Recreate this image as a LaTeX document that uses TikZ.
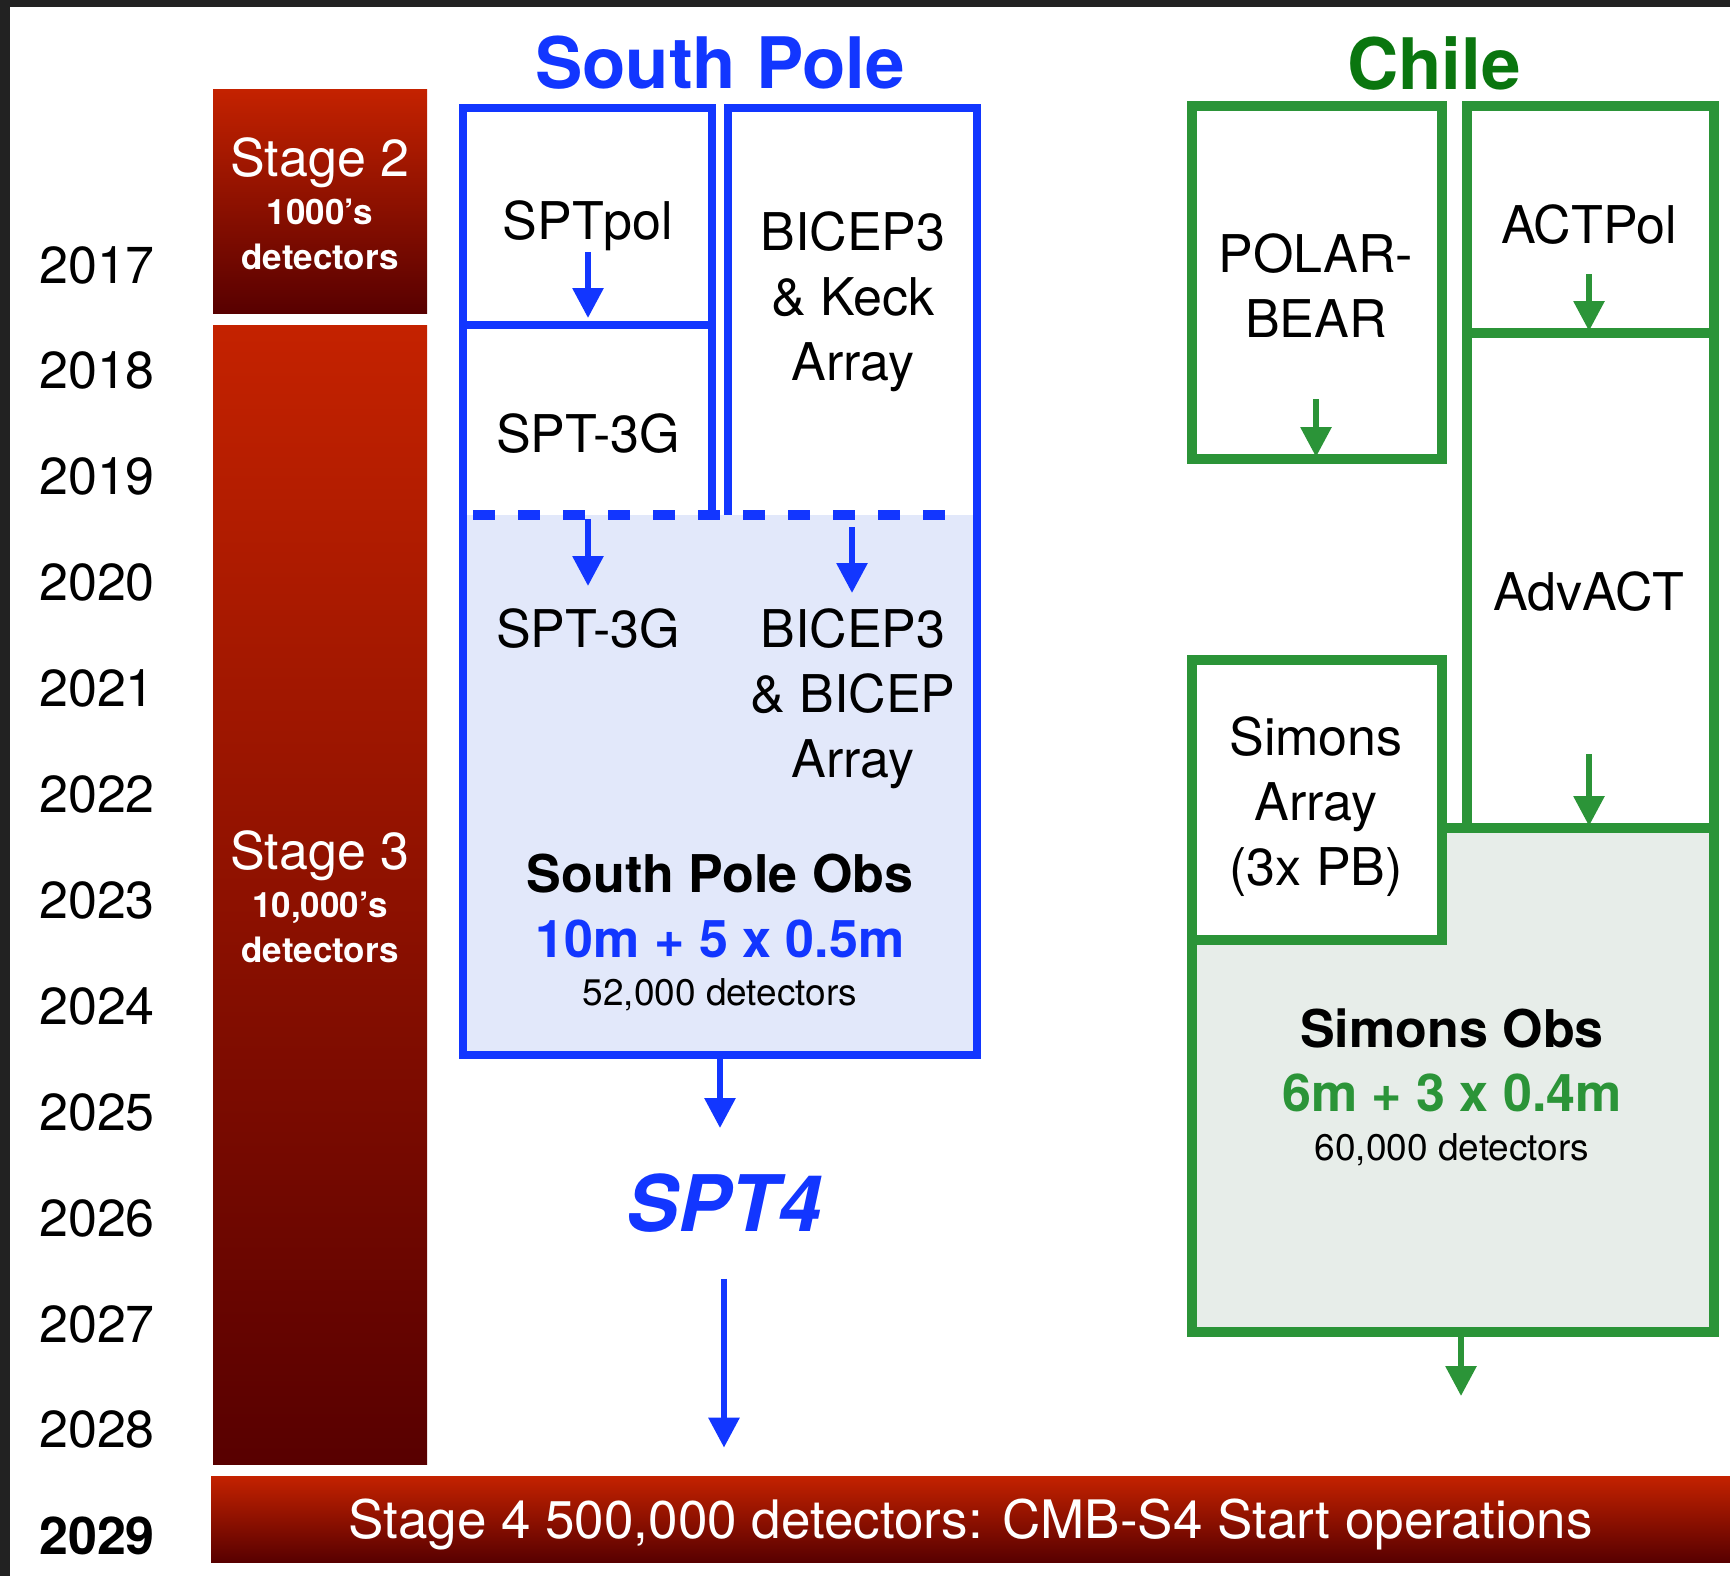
\documentclass[tikz,border=0pt]{standalone}
\usepackage{fontspec}
\setmainfont{TeX Gyre Heros}
\usetikzlibrary{arrows.meta}
\definecolor{spBlue}{HTML}{1236FF}
\definecolor{spFill}{HTML}{E2E8FA}
\definecolor{chGreen}{HTML}{2B9438}
\definecolor{chTitle}{HTML}{0A760F}
\definecolor{chFill}{HTML}{E7EDE9}
\definecolor{stageTop}{HTML}{C42200}
\definecolor{stageBot}{HTML}{580000}
\definecolor{frameDark}{HTML}{222222}

\begin{document}
\begin{tikzpicture}[x=0.5pt, y=-0.5pt,
        yearlbl/.style={font=\fontsize{26}{30}\selectfont, inner sep=0pt},
        lbl/.style={font=\fontsize{26}{32.5}\selectfont, align=center, inner sep=0pt},
        boldlbl/.style={lbl, font=\bfseries\fontsize{26}{32.5}\selectfont},
        detlbl/.style={font=\fontsize{18.5}{22}\selectfont, inner sep=0pt},
        region/.style={font=\bfseries\fontsize{35.5}{40}\selectfont, inner sep=0pt},
        stagebox/.style={top color=stageTop, bottom color=stageBot, draw=none, inner sep=0pt},
        stagettl/.style={text=white, font=\fontsize{26}{30}\selectfont, inner sep=0pt},
        stagesub/.style={text=white, font=\bfseries\fontsize{17.5}{22.5}\selectfont, align=center, inner sep=0pt},
        spline/.style={draw=spBlue, line width=4pt},
        chline/.style={draw=chGreen, line width=5pt},
        barr/.style={-{Triangle[length=15pt,width=15pt]}, line width=3pt, draw=spBlue},
        garr/.style={-{Triangle[length=15pt,width=15pt]}, line width=3pt, draw=chGreen}
    ]
        \useasboundingbox (0,0) rectangle (1730,1576);
        \fill[frameDark] (0,0) rectangle (1730,1576);
        \fill[white] (10,7) rectangle (1730,1576);

        % --- YEARS ---
        \foreach \yr [count=\i from 0] in {2017,...,2028}
            \node[yearlbl] (yr\yr) at (97, 265+\i*105.9) {\yr};
        \node[yearlbl, font=\bfseries\fontsize{26}{30}\selectfont] (yr2029) at (97,1536) {2029};

        % --- STAGES ---
        \node[stagebox, minimum width=107pt, minimum height=112pt] (stage2) at (320,201) {};
        \node[stagettl] (stage2ttl) at (320,163) {Stage 2};
        \node[stagesub] (stage2sub) at (320,234.5) {1000's\\detectors};

        \node[stagebox, minimum width=107pt, minimum height=569.5pt] (stage3) at (320,894.5) {};
        \node[stagettl] (stage3ttl) at (320,856) {Stage 3};
        \node[stagesub] (stage3sub) at (320,927.5) {10,000's\\detectors};

        \node[stagebox, minimum width=759.5pt, minimum height=43pt, text=white,
              font=\fontsize{26.5}{30}\selectfont, text depth=0pt] (s4) at (970.5,1519)
              {Stage 4 500,000 detectors: CMB-S4 Start operations};

        % --- SOUTH POLE ---
        \node[region, text=spBlue] (sptitle) at (720,63) {South Pole};
        \fill[spFill] (463,515) rectangle (977,1055);
        \draw[spline] (712,515) -- (712,108) -- (463,108) -- (463,1055) -- (977,1055) -- (977,108) -- (728,108) -- (728,515);
        \draw[spline] (463,325) -- (712,325);
        \draw[spBlue, line width=5pt, dash pattern=on 11pt off 11.5pt] (473,515) -- (950,515);

        \node[lbl] (sptpol) at (588,226) {SPTpol};
        \node[lbl] (spt3g) at (588,434) {SPT-3G};
        \node[lbl] (bicepk) at (853,302) {BICEP3\\\& Keck\\Array};
        \node[lbl] (spt3gb) at (588,629) {SPT-3G};
        \node[lbl] (bicepa) at (853,699) {BICEP3\\\& BICEP\\Array};
        \node[boldlbl] (spobs) at (720,874) {South Pole Obs};
        \node[boldlbl, text=spBlue] (spsize) at (720,939) {10m + 5 x 0.5m};
        \node[detlbl] (spdet) at (720,995) {52,000 detectors};
        \node[font=\bfseries\itshape\fontsize{39}{44}\selectfont, text=spBlue, inner sep=0pt] (spt4) at (724,1203) {SPT4};

        \coordinate (polA) at (588,252);
        \coordinate (polB) at (588,318);
        \coordinate (dashL) at (588,519);
        \coordinate (spt3gTip) at (588,586);
        \coordinate (dashR) at (852,527);
        \coordinate (bicepTip) at (852,593);
        \coordinate (spBot) at (720,1055);
        \coordinate (spObsTip) at (720,1128);

        \draw[barr] (polA) -- (polB);
        \draw[barr] (dashL) -- (spt3gTip);
        \draw[barr] (dashR) -- (bicepTip);
        \draw[barr] (spBot) -- (spObsTip);
        \draw[barr, shorten <=23pt, shorten >=14pt] (spt4.south) -- (spt4.south |- s4.north);

        % --- CHILE ---
        \node[region, text=chTitle] (chtitle) at (1434,63) {Chile};
        \fill[chFill] (1442,828) -- (1714,828) -- (1714,1332) -- (1192,1332) -- (1192,940) -- (1442,940) -- cycle;
        \draw[chline] (1192,106) rectangle (1442,459);
        \draw[chline] (1467,106) rectangle (1714,333);
        \draw[chline] (1467,333) -- (1467,828) -- (1714,828) -- (1714,333);
        \draw[chline] (1442,828) -- (1714,828) -- (1714,1332) -- (1192,1332) -- (1192,940);
        \draw[chline] (1192,660) rectangle (1442,940);

        \node[lbl] (polarbear) at (1316,286) {POLAR-\\BEAR};
        \node[lbl] (actpol) at (1589,225) {ACTPol};
        \node[lbl] (advact) at (1589,592) {AdvACT};
        \node[lbl] (simarr) at (1316,807) {Simons\\Array\\(3x PB)};
        \node[boldlbl] (soobs) at (1452,1028) {Simons Obs};
        \node[boldlbl, text=chGreen] (sosize) at (1452,1093) {6m + 3 x 0.4m};
        \node[detlbl] (sodet) at (1452,1150) {60,000 detectors};

        \coordinate (pbA) at (1316,399);
        \coordinate (pbB) at (1316,457);
        \coordinate (actA) at (1589,274);
        \coordinate (actB) at (1589,331);
        \coordinate (advA) at (1589,754);
        \coordinate (advB) at (1589,826);
        \coordinate (soA) at (1461,1332);
        \coordinate (soB) at (1461,1396);

        \draw[garr] (pbA) -- (pbB);
        \draw[garr] (actA) -- (actB);
        \draw[garr] (advA) -- (advB);
        \draw[garr] (soA) -- (soB);
    \end{tikzpicture}
\end{document}
